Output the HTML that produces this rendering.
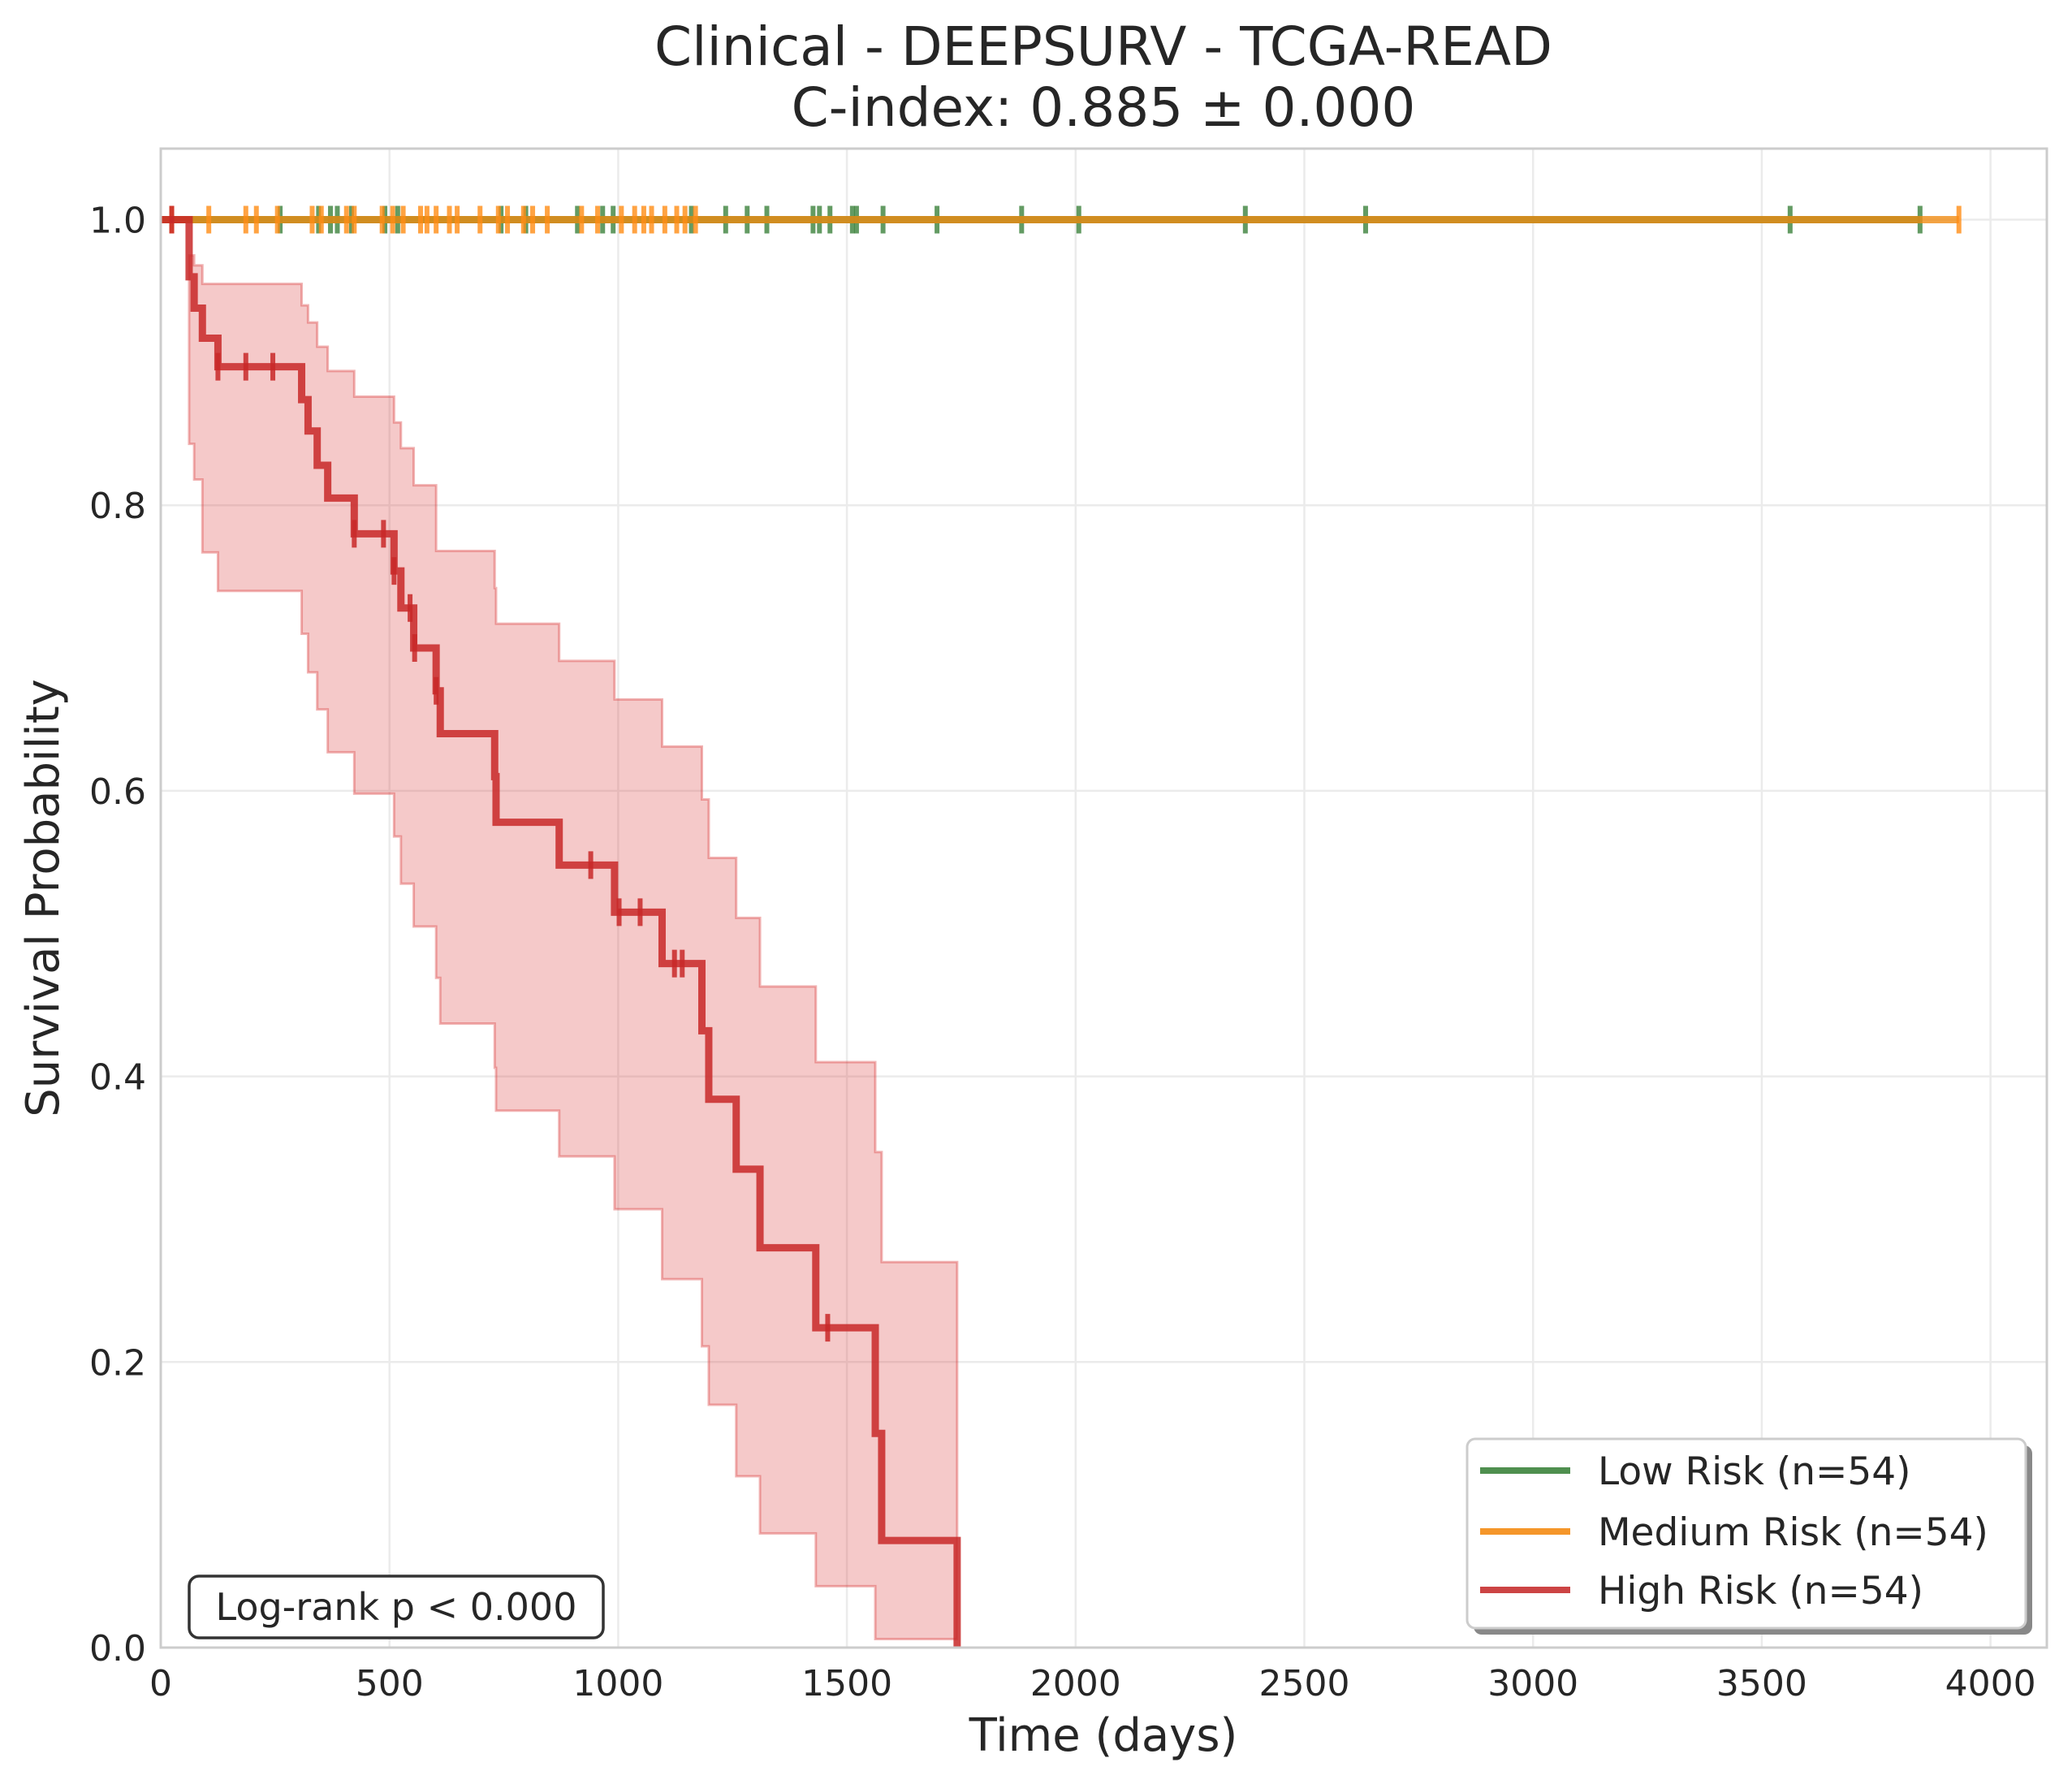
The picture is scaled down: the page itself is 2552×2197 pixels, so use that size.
<!DOCTYPE html>
<html><head><meta charset="utf-8"><style>
html,body{margin:0;padding:0;background:#fff;}
svg{display:block;font-family:"DejaVu Sans","Liberation Sans",sans-serif;}
</style></head><body>
<svg id="chart" width="2552" height="2197" viewBox="0 0 2552 2197" xmlns="http://www.w3.org/2000/svg">
<rect width="2552" height="2197" fill="#fff"/>
<g id="grid"></g>
<g id="band"></g>
<g id="lines"></g>
<rect x="198" y="183" width="2323" height="1846" fill="none" stroke="#cccccc" stroke-width="3"/>
<g id="ticks"></g>
<text x="1359" y="80" font-size="66" text-anchor="middle" fill="#262626">Clinical - DEEPSURV - TCGA-READ</text>
<text x="1359" y="155" font-size="66" text-anchor="middle" fill="#262626">C-index: 0.885 ± 0.000</text>
<text x="1359" y="2156" font-size="56" text-anchor="middle" fill="#262626">Time (days)</text>
<text transform="translate(72,1106) rotate(-90)" font-size="56" text-anchor="middle" fill="#262626">Survival Probability</text>
<g>
<rect x="233" y="1941" width="510" height="76" rx="12" fill="#fff" stroke="#333" stroke-width="3.5"/>
<text x="488" y="1995" font-size="46" text-anchor="middle" fill="#262626">Log-rank p &lt; 0.000</text>
</g>
<g>
<rect x="1815" y="1780" width="688" height="233" rx="10" fill="#888"/>
<rect x="1807" y="1772" width="688" height="233" rx="10" fill="#fff" stroke="#cccccc" stroke-width="3"/>
<line x1="1823" x2="1934" y1="1811" y2="1811" stroke="#4f8f4f" stroke-width="8"/>
<text x="1968" y="1828" font-size="47" fill="#262626">Low Risk (n=54)</text>
<line x1="1823" x2="1934" y1="1886" y2="1886" stroke="#f5962a" stroke-width="8"/>
<text x="1968" y="1903" font-size="47" fill="#262626">Medium Risk (n=54)</text>
<line x1="1823" x2="1934" y1="1958" y2="1958" stroke="#cc4444" stroke-width="8"/>
<text x="1968" y="1975" font-size="47" fill="#262626">High Risk (n=54)</text>
</g>
</svg>
<script>
const xTicks=[0,500,1000,1500,2000,2500,3000,3500,4000];
const yTicks=[0,0.2,0.4,0.6,0.8,1.0];
const yTickLabels=["0.0","0.2","0.4","0.6","0.8","1.0"];
const highTimes=[0,62,73,91,125,308,322,342,365,423,510,525,553,602,611,730,733,871,992,1096,1183,1198,1258,1310,1432,1562,1576,1741];
const highSurv=[1.0,0.96,0.938,0.917,0.897,0.874,0.852,0.828,0.805,0.780,0.754,0.728,0.700,0.670,0.640,0.610,0.578,0.548,0.515,0.479,0.432,0.384,0.335,0.280,0.224,0.150,0.075,0.0];
const highUpper=[1.0,0.975,0.968,0.955,0.955,0.94,0.928,0.911,0.894,0.876,0.858,0.84,0.814,0.768,0.768,0.742,0.717,0.691,0.664,0.631,0.594,0.553,0.511,0.463,0.41,0.347,0.27,0.27];
const highLower=[1.0,0.861,0.843,0.818,0.767,0.74,0.71,0.683,0.657,0.627,0.598,0.568,0.535,0.505,0.469,0.437,0.406,0.376,0.344,0.307,0.258,0.211,0.17,0.12,0.08,0.043,0.006,0.006];
const highCensor=[24,125,186,245,423,487,510,545,555,602,940,1002,1048,1123,1140,1458];
const mediumEnd=3931;
const mediumCensor=[24,105,186,209,255,331,351,406,423,484,507,530,568,582,602,631,648,698,738,758,793,813,845,920,955,1007,1036,1056,1073,1102,1128,1146,1169,3931];
const lowEnd=3846;
const lowCensor=[261,345,371,386,417,490,518,744,798,911,966,989,1160,1235,1282,1325,1426,1440,1463,1512,1521,1579,1697,1882,2007,2371,2634,3562,3846];

const X0=198,XPX=0.5634,Y0=2029,YPX=1758.5;
const xs=d=>X0+d*XPX, ys=v=>Y0-v*YPX;
const NS="http://www.w3.org/2000/svg";
function mk(tag,attrs,parent){const e=document.createElementNS(NS,tag);for(const k in attrs)e.setAttribute(k,attrs[k]);document.getElementById(parent).appendChild(e);return e;}

xTicks.forEach(t=>{
  const g=mk('line',{x1:xs(t),x2:xs(t),y1:183,y2:2029,stroke:'#ebebeb','stroke-width':2.5},'grid');
  
  
  const l=mk('text',{x:xs(t),y:2088,'font-size':44,'text-anchor':'middle',fill:'#262626'},'ticks');
  l.textContent=t;
  
  
});
yTicks.forEach((t,i)=>{
  const g=mk('line',{x1:198,x2:2521,y1:ys(t),y2:ys(t),stroke:'#ebebeb','stroke-width':2.5},'grid');
  
  
  const l=mk('text',{x:180,y:ys(t)+16,'font-size':44,'text-anchor':'end',fill:'#262626'},'ticks');
  l.textContent=yTickLabels[i];
  
  
});

function stepPath(times,vals,end){
  let d='M'+xs(times[0])+','+ys(vals[0]);
  for(let i=1;i<times.length;i++){d+=' H'+xs(times[i])+' V'+ys(vals[i]);}
  if(end!==undefined)d+=' H'+xs(end);
  return d;
}
let bd='M'+xs(highTimes[1])+','+ys(highUpper[1]);
for(let i=2;i<highTimes.length;i++){bd+=' H'+xs(highTimes[i])+' V'+ys(highUpper[i]);}
bd+=' V'+ys(highLower[highLower.length-1]);
for(let i=highTimes.length-1;i>=2;i--){bd+=' V'+ys(highLower[i])+' H'+xs(highTimes[i-1]);}
bd+=' V'+ys(highLower[1])+' Z';
const band=mk('path',{d:bd,fill:'rgba(214,39,40,0.25)',stroke:'rgba(214,39,40,0.35)','stroke-width':3},'band');



function censor(arr,times,vals,color,name){
  arr.forEach(c=>{
    let v=1;
    if(times){for(let i=0;i<times.length;i++){if(times[i]<=c)v=vals[i];}}
    const m=mk('line',{x1:xs(c),x2:xs(c),y1:ys(v)-17,y2:ys(v)+17,stroke:color,'stroke-width':6},'lines');
    
    
  });
}
const low=mk('path',{d:'M'+xs(0)+','+ys(1)+' H'+xs(lowEnd),fill:'none',stroke:'rgba(44,120,44,0.8)','stroke-width':9},'lines');


censor(lowCensor,null,null,'rgba(60,130,60,0.8)','low-risk-censor');
const med=mk('path',{d:'M'+xs(0)+','+ys(1)+' H'+xs(mediumEnd),fill:'none',stroke:'rgba(240,140,20,0.8)','stroke-width':9},'lines');


censor(mediumCensor,null,null,'rgba(255,140,20,0.8)','medium-risk-censor');
const high=mk('path',{d:stepPath(highTimes,highSurv),fill:'none',stroke:'rgba(200,40,40,0.85)','stroke-width':9},'lines');


censor(highCensor,highTimes,highSurv,'rgba(200,40,40,0.85)','high-risk-censor');
</script>
</body></html>
